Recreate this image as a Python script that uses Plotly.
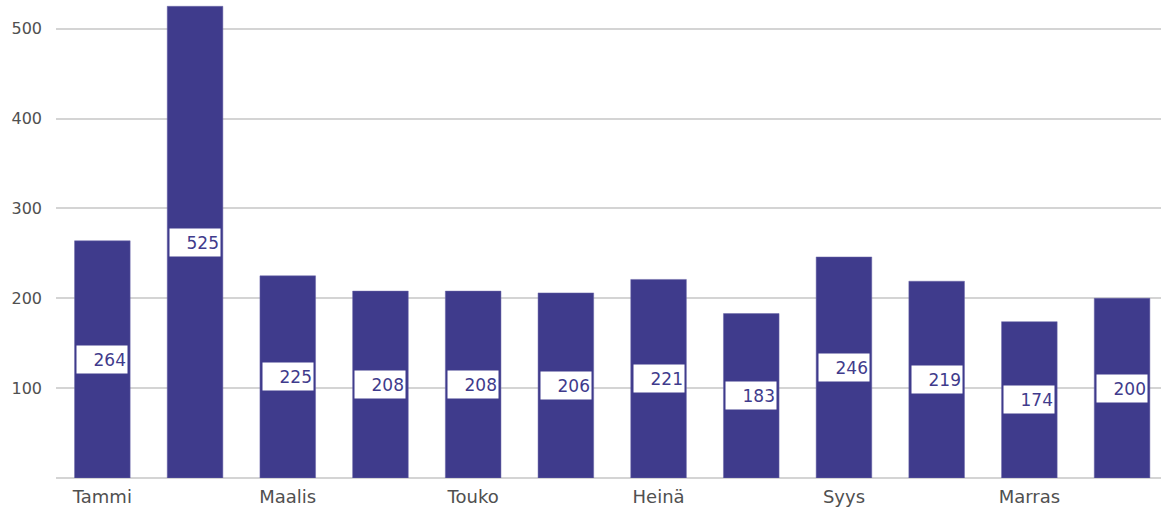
import plotly.graph_objects as go

months = ["Tammi", "Helmi", "Maalis", "Huhti", "Touko", "Kesä",
          "Heinä", "Elo", "Syys", "Loka", "Marras", "Joulu"]
values = [264, 525, 225, 208, 208, 206, 221, 183, 246, 219, 174, 200]
shown_ticks = ["Tammi", "Maalis", "Touko", "Heinä", "Syys", "Marras"]
y_ticks = [100, 200, 300, 400, 500]

BAR = "#3f3b8c"
FONT = "DejaVu Sans, sans-serif"

fig = go.Figure()
fig.add_trace(go.Bar(
    x=months, y=values, marker=dict(color=BAR, line=dict(color="#6a66a8", width=0.5)),
    width=0.6, hoverinfo="x+y",
))

for m, v in zip(months, values):
    fig.add_annotation(
        x=m, y=v / 2, text=str(v), showarrow=False,
        bgcolor="white", width=48, height=25, align="right",
        font=dict(family=FONT, size=17, color="#3f3b8c"),
        xanchor="center", yanchor="middle",
    )

fig.update_layout(
    width=1161, height=513,
    margin=dict(l=56, r=0, t=0, b=35),
    plot_bgcolor="white", paper_bgcolor="white",
    showlegend=False, bargap=0.4,
    font=dict(family=FONT, size=14, color="#555555"),
)
fig.update_xaxes(
    type="category", range=[-0.5, 11.42],
    tickmode="array", tickvals=shown_ticks, ticktext=shown_ticks,
    showgrid=False, showline=False, ticks="",
    tickfont=dict(family=FONT, size=18, color="#505050"),
    ticklabelstandoff=6,
)
fig.update_yaxes(
    range=[0, 532], tickvals=y_ticks, showgrid=True,
    gridcolor="#d4d4d4", gridwidth=1.5, zeroline=True,
    zerolinecolor="#d4d4d4", zerolinewidth=1.5,
    tickfont=dict(family=FONT, size=16, color="#505050"),
    ticklabelstandoff=13,
)

fig.write_html("out.html", config={"displayModeBar": False},
               post_script="document.body.style.margin='0';")
